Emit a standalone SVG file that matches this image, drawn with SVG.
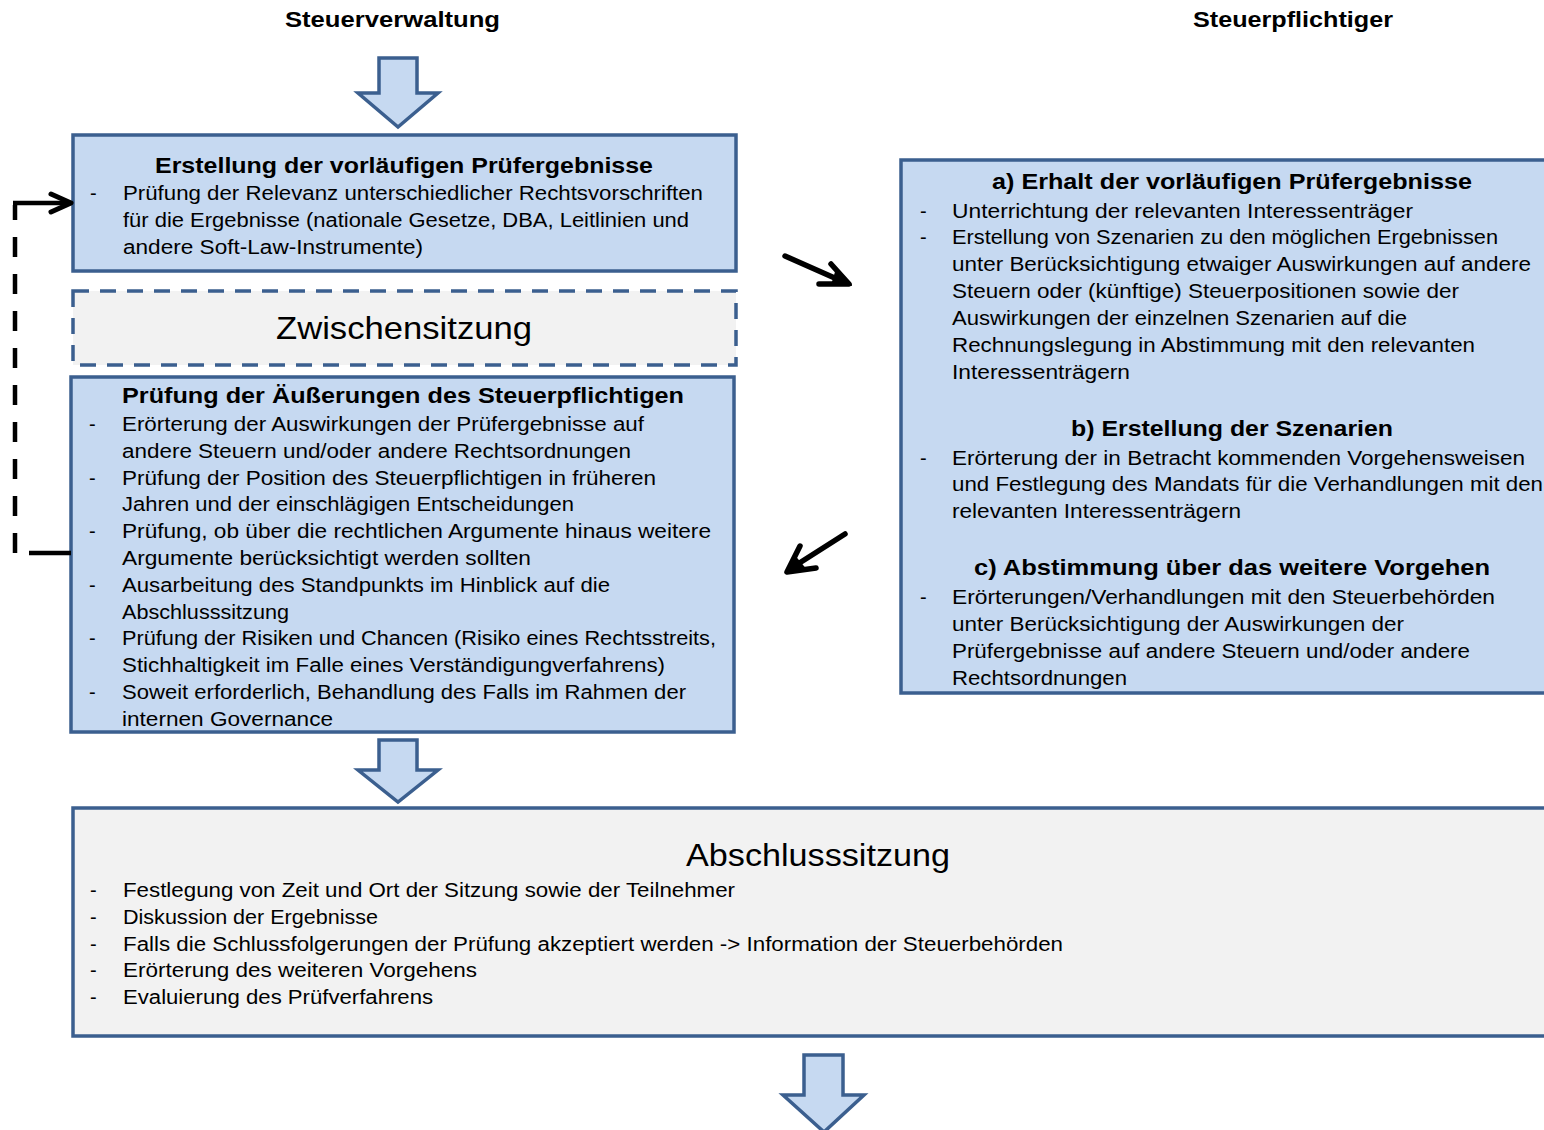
<svg xmlns="http://www.w3.org/2000/svg" width="1544" height="1130" viewBox="0 0 1544 1130">
<style>
.box{fill:#C6D9F1;stroke:#3B5F8F;stroke-width:3.5}
.grey{fill:#F2F2F2;stroke:#3B5F8F;stroke-width:3.5}
.dashed{fill:#F2F2F2;stroke:#3B5F8F;stroke-width:3.5;stroke-dasharray:16,11}
.blk{fill:#C6D9F1;stroke:#3B5F8F;stroke-width:3.5;stroke-linejoin:miter}
text{font-family:"Liberation Sans",Arial,sans-serif;fill:#000}
.b{font-size:20px}
.t{font-size:22px;font-weight:bold}
.h{font-size:22px;font-weight:bold}
.big{font-size:32px}
.con{fill:none;stroke:#000;stroke-width:4.5}
.fat{fill:none;stroke:#000;stroke-width:5.5;stroke-linecap:round;stroke-linejoin:round}
.head{fill:#000;stroke:#000;stroke-width:2;stroke-linejoin:round}
</style>

<g id="headers">
<text class="h" x="285" y="27" textLength="215" lengthAdjust="spacingAndGlyphs">Steuerverwaltung</text>
<text class="h" x="1193" y="27" textLength="200" lengthAdjust="spacingAndGlyphs">Steuerpflichtiger</text>
</g>

<g id="block-arrows">
<polygon class="blk" points="379,58 417,58 417,93 438,93 398,127 358,93 379,93"/>
<polygon class="blk" points="379,740 417,740 417,770 438,770 398,802 358,770 379,770"/>
<polygon class="blk" points="804,1055 843,1055 843,1095 864,1095 824,1132 783,1095 804,1095"/>
</g>

<g id="node-erstellung">
<rect class="box" x="73" y="135" width="663" height="136"/>
<text class="t" x="155" y="173" textLength="498" lengthAdjust="spacingAndGlyphs">Erstellung der vorläufigen Prüfergebnisse</text>
<text class="b" x="90" y="200">-</text>
<text class="b" x="123" y="200" textLength="580" lengthAdjust="spacingAndGlyphs">Prüfung der Relevanz unterschiedlicher Rechtsvorschriften</text>
<text class="b" x="123" y="227" textLength="566" lengthAdjust="spacingAndGlyphs">für die Ergebnisse (nationale Gesetze, DBA, Leitlinien und</text>
<text class="b" x="123" y="254" textLength="300" lengthAdjust="spacingAndGlyphs">andere Soft-Law-Instrumente)</text>
</g>

<g id="node-zwischensitzung">
<rect class="dashed" x="73" y="291" width="663" height="74"/>
<text class="big" x="276" y="339" textLength="256" lengthAdjust="spacingAndGlyphs">Zwischensitzung</text>
</g>

<g id="node-pruefung">
<rect class="box" x="71" y="377" width="663" height="355"/>
<text class="t" x="122" y="403" textLength="562" lengthAdjust="spacingAndGlyphs">Prüfung der Äußerungen des Steuerpflichtigen</text>
<text class="b" x="89" y="431">-</text>
<text class="b" x="122" y="431" textLength="522" lengthAdjust="spacingAndGlyphs">Erörterung der Auswirkungen der Prüfergebnisse auf</text>
<text class="b" x="122" y="458" textLength="509" lengthAdjust="spacingAndGlyphs">andere Steuern und/oder andere Rechtsordnungen</text>
<text class="b" x="89" y="485">-</text>
<text class="b" x="122" y="485" textLength="534" lengthAdjust="spacingAndGlyphs">Prüfung der Position des Steuerpflichtigen in früheren</text>
<text class="b" x="122" y="511" textLength="452" lengthAdjust="spacingAndGlyphs">Jahren und der einschlägigen Entscheidungen</text>
<text class="b" x="89" y="538">-</text>
<text class="b" x="122" y="538" textLength="589" lengthAdjust="spacingAndGlyphs">Prüfung, ob über die rechtlichen Argumente hinaus weitere</text>
<text class="b" x="122" y="565" textLength="409" lengthAdjust="spacingAndGlyphs">Argumente berücksichtigt werden sollten</text>
<text class="b" x="89" y="592">-</text>
<text class="b" x="122" y="592" textLength="488" lengthAdjust="spacingAndGlyphs">Ausarbeitung des Standpunkts im Hinblick auf die</text>
<text class="b" x="122" y="619" textLength="167" lengthAdjust="spacingAndGlyphs">Abschlusssitzung</text>
<text class="b" x="89" y="645">-</text>
<text class="b" x="122" y="645" textLength="594" lengthAdjust="spacingAndGlyphs">Prüfung der Risiken und Chancen (Risiko eines Rechtsstreits,</text>
<text class="b" x="122" y="672" textLength="543" lengthAdjust="spacingAndGlyphs">Stichhaltigkeit im Falle eines Verständigungverfahrens)</text>
<text class="b" x="89" y="699">-</text>
<text class="b" x="122" y="699" textLength="564" lengthAdjust="spacingAndGlyphs">Soweit erforderlich, Behandlung des Falls im Rahmen der</text>
<text class="b" x="122" y="726" textLength="211" lengthAdjust="spacingAndGlyphs">internen Governance</text>
</g>

<g id="node-steuerpflichtiger">
<rect class="box" x="901" y="160" width="700" height="533"/>
<text class="t" x="992" y="189" textLength="480" lengthAdjust="spacingAndGlyphs">a) Erhalt der vorläufigen Prüfergebnisse</text>
<text class="b" x="920" y="218">-</text>
<text class="b" x="952" y="218" textLength="461" lengthAdjust="spacingAndGlyphs">Unterrichtung der relevanten Interessenträger</text>
<text class="b" x="920" y="244">-</text>
<text class="b" x="952" y="244" textLength="546" lengthAdjust="spacingAndGlyphs">Erstellung von Szenarien zu den möglichen Ergebnissen</text>
<text class="b" x="952" y="271" textLength="579" lengthAdjust="spacingAndGlyphs">unter Berücksichtigung etwaiger Auswirkungen auf andere</text>
<text class="b" x="952" y="298" textLength="507" lengthAdjust="spacingAndGlyphs">Steuern oder (künftige) Steuerpositionen sowie der</text>
<text class="b" x="952" y="325" textLength="455" lengthAdjust="spacingAndGlyphs">Auswirkungen der einzelnen Szenarien auf die</text>
<text class="b" x="952" y="352" textLength="523" lengthAdjust="spacingAndGlyphs">Rechnungslegung in Abstimmung mit den relevanten</text>
<text class="b" x="952" y="379" textLength="178" lengthAdjust="spacingAndGlyphs">Interessenträgern</text>
<text class="t" x="1071" y="436" textLength="322" lengthAdjust="spacingAndGlyphs">b) Erstellung der Szenarien</text>
<text class="b" x="920" y="465">-</text>
<text class="b" x="952" y="465" textLength="573" lengthAdjust="spacingAndGlyphs">Erörterung der in Betracht kommenden Vorgehensweisen</text>
<text class="b" x="952" y="491" textLength="591" lengthAdjust="spacingAndGlyphs">und Festlegung des Mandats für die Verhandlungen mit den</text>
<text class="b" x="952" y="518" textLength="289" lengthAdjust="spacingAndGlyphs">relevanten Interessenträgern</text>
<text class="t" x="974" y="575" textLength="516" lengthAdjust="spacingAndGlyphs">c) Abstimmung über das weitere Vorgehen</text>
<text class="b" x="920" y="604">-</text>
<text class="b" x="952" y="604" textLength="543" lengthAdjust="spacingAndGlyphs">Erörterungen/Verhandlungen mit den Steuerbehörden</text>
<text class="b" x="952" y="631" textLength="452" lengthAdjust="spacingAndGlyphs">unter Berücksichtigung der Auswirkungen der</text>
<text class="b" x="952" y="658" textLength="518" lengthAdjust="spacingAndGlyphs">Prüfergebnisse auf andere Steuern und/oder andere</text>
<text class="b" x="952" y="685" textLength="175" lengthAdjust="spacingAndGlyphs">Rechtsordnungen</text>
</g>

<g id="node-abschlusssitzung">
<rect class="grey" x="73" y="808" width="1500" height="228"/>
<text class="big" x="686" y="866" textLength="264" lengthAdjust="spacingAndGlyphs">Abschlusssitzung</text>
<text class="b" x="90" y="897">-</text>
<text class="b" x="123" y="897" textLength="612" lengthAdjust="spacingAndGlyphs">Festlegung von Zeit und Ort der Sitzung sowie der Teilnehmer</text>
<text class="b" x="90" y="924">-</text>
<text class="b" x="123" y="924" textLength="255" lengthAdjust="spacingAndGlyphs">Diskussion der Ergebnisse</text>
<text class="b" x="90" y="951">-</text>
<text class="b" x="123" y="951" textLength="940" lengthAdjust="spacingAndGlyphs">Falls die Schlussfolgerungen der Prüfung akzeptiert werden -&gt; Information der Steuerbehörden</text>
<text class="b" x="90" y="977">-</text>
<text class="b" x="123" y="977" textLength="354" lengthAdjust="spacingAndGlyphs">Erörterung des weiteren Vorgehens</text>
<text class="b" x="90" y="1004">-</text>
<text class="b" x="123" y="1004" textLength="310" lengthAdjust="spacingAndGlyphs">Evaluierung des Prüfverfahrens</text>
</g>

<g id="connectors">
<path class="con" d="M15,553 V205" stroke-dasharray="20,17"/>
<path class="con" d="M13,203 H70"/>
<path class="fat" d="M51,194 L71,203 L51,212" style="stroke-width:5"/>
<path class="con" d="M29,553 H71"/>
<path class="fat" d="M785,256 L846,283"/>
<path class="fat" d="M831,264 L849,284 L819,284"/>
<path class="head" d="M836,272 L851,285 L832,285 Z"/>
<path class="fat" d="M845,534 L790,569"/>
<path class="fat" d="M800,546 L787,572 L816,568"/>
<path class="head" d="M795,557 L786,573 L805,569 Z"/>
</g>
</svg>
